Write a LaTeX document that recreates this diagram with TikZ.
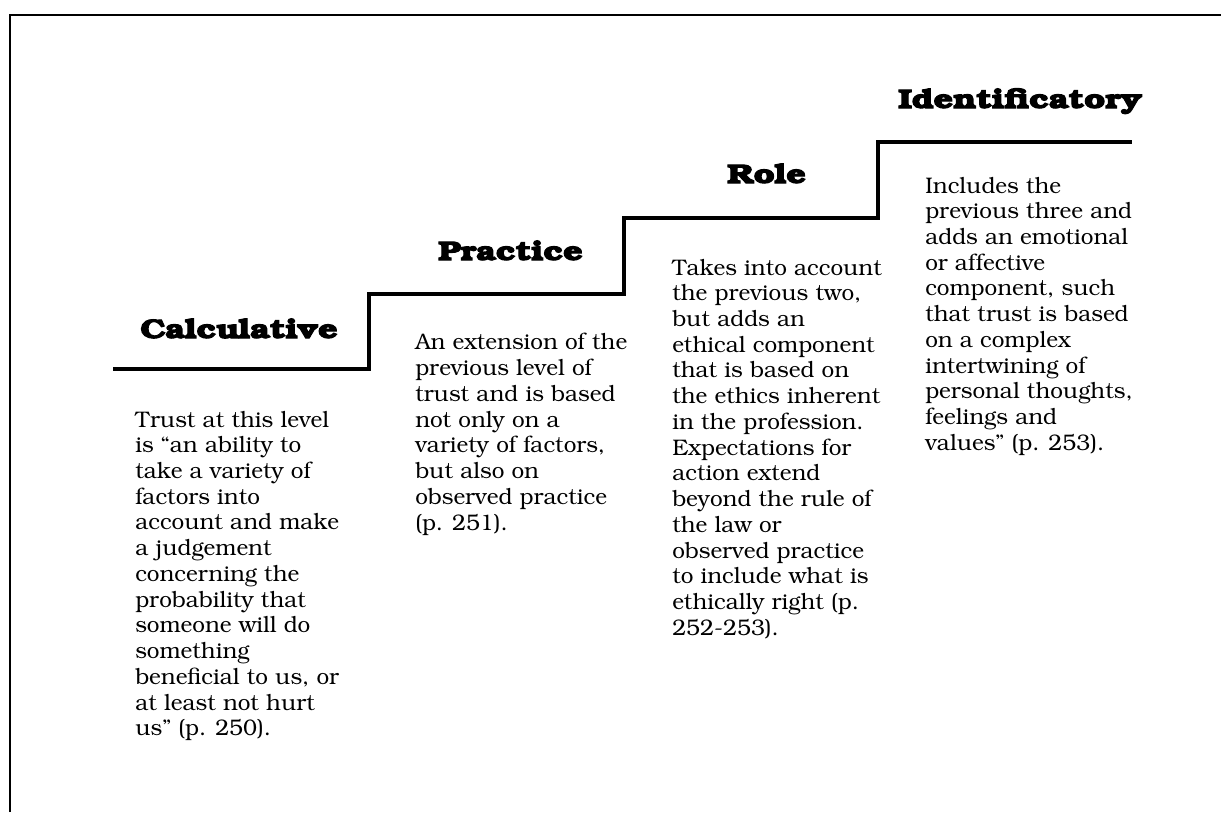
\documentclass[tikz,border=0pt]{standalone}
\usepackage[T1]{fontenc}
\usepackage{bookman}
\usepackage{graphicx}
\newcommand\heavytitle[1]{\special{pdf:literal direct 2 Tr 0.7 w}\scalebox{1.27}[1]{#1}\special{pdf:literal direct 0 Tr}}

\begin{document}
\begin{tikzpicture}[x=0.025cm, y=-0.025cm,
    level/.style={anchor=base west, inner sep=0pt, font=\fontsize{19}{22}\selectfont\bfseries},
    desc/.style={anchor=north west, inner sep=0pt, align=left, font=\fontsize{16}{18.3}\selectfont}]
        \useasboundingbox (0,0) rectangle (1221,817);
        \draw [line width=1.4pt] (10,812) -- (10,15) -- (1221,15);

        \coordinate (s0) at (113,369);
        \coordinate (s1) at (369,369);
        \coordinate (s2) at (369,294);
        \coordinate (s3) at (624,294);
        \coordinate (s4) at (624,218);
        \coordinate (s5) at (878,218);
        \coordinate (s6) at (878,142);
        \coordinate (s7) at (1132,142);
        \draw [line width=3.4pt, line join=miter] (s0) -- (s1) -- (s2) -- (s3) -- (s4) -- (s5) -- (s6) -- (s7);

        \node [level] (calc) at (140,338) {\heavytitle{Calculative}};
        \node [level] (prac) at (438,260) {\heavytitle{Practice}};
        \node [level] (role) at (727,183) {\heavytitle{Role}};
        \node [level] (ident) at (898,108) {\heavytitle{Identificatory}};

        \node [desc] (calctxt) at (135,411) {Trust at this level\\is ``an ability to\\take a variety of\\
        factors into\\account and make\\a judgement\\concerning the\\probability that\\
        someone will do\\something\\beneficial to us, or\\at least not hurt\\us'' (p. 250).};
        \node [desc] (practxt) at (415,333) {An extension of the\\previous level of\\
        trust and is based\\not only on a\\variety of factors,\\but also on\\
        observed practice\\(p. 251).};
        \node [desc] (roletxt) at (672,259) {Takes into account\\the previous two,\\but adds an\\
        ethical component\\that is based on\\the ethics inherent\\in the profession.\\
        Expectations for\\action extend\\beyond the rule of\\the law or\\observed practice\\
        to include what is\\ethically right (p.\\252-253).};
        \node [desc] (identtxt) at (925,177) {Includes the\\previous three and\\
        adds an emotional\\or affective\\component, such\\that trust is based\\
        on a complex\\intertwining of\\personal thoughts,\\feelings and\\values'' (p. 253).};
    \end{tikzpicture}
\end{document}
